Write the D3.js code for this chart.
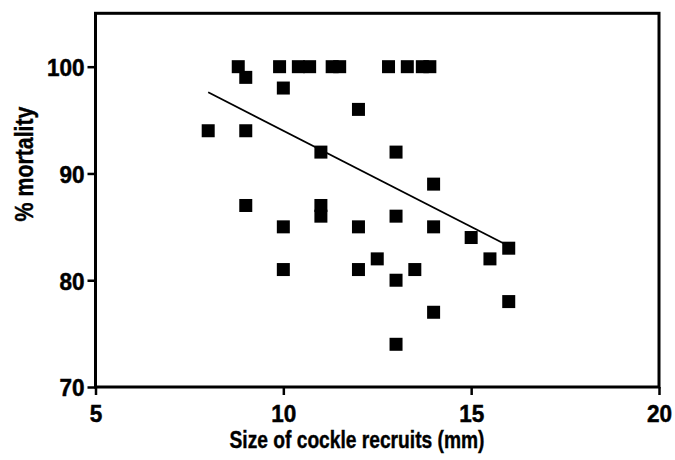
<!DOCTYPE html>
<html>
<head>
<meta charset="utf-8">
<script src="https://cdn.jsdelivr.net/npm/d3@7"></script>
<style>
  html, body { margin: 0; padding: 0; background: #fff; }
  svg { display: block; }
  text { font-family: "Liberation Sans", Arial, sans-serif; font-weight: bold; fill: #000; }
</style>
</head>
<body>
<svg id="chart" width="675" height="460"></svg>
<script>
// Recruit size (mm) and % mortality for each sample
const sizeMm = [8, 8.8, 9, 9, 9, 9.9, 10, 10, 10, 10.4, 10.7, 11, 11, 11, 11.3, 11.5,
  12, 12, 12, 12.5, 12.8, 13, 13, 13, 13, 13.3, 13.5, 13.7, 13.9, 14, 14, 14, 15, 15.5, 16, 16];
const mortality = [94, 100, 99, 94, 87, 100, 98, 85, 81, 100, 100, 92, 87, 86, 100, 100,
  96, 85, 81, 82, 100, 92, 86, 80, 74, 100, 81, 100, 100, 89, 85, 77, 84, 82, 83, 78];

// Fitted regression line end points
const fitX = [8, 16];
const fitY = [97.6, 83.2];

const xTicks = [5, 10, 15, 20];
const yTicks = [70, 80, 90, 100];

const svg = d3.select("#chart");
const plotLeft = 95.5, plotRight = 659, plotTop = 13.3, plotBottom = 387;

const x = d3.scaleLinear().domain([5, 20]).range([plotLeft, plotRight]);
const y = d3.scaleLinear().domain([70, 105]).range([plotBottom, plotTop]);

// Frame around the plot area
svg.append("rect")
  .attr("x", plotLeft).attr("y", plotTop)
  .attr("width", plotRight - plotLeft).attr("height", plotBottom - plotTop)
  .attr("fill", "none").attr("stroke", "#000").attr("stroke-width", 3);

// Axes
const xAxis = svg.append("g")
  .attr("transform", `translate(0,${plotBottom})`)
  .call(d3.axisBottom(x).tickValues(xTicks).tickSize(8).tickSizeOuter(0));
const yAxis = svg.append("g")
  .attr("transform", `translate(${plotLeft},0)`)
  .call(d3.axisLeft(y).tickValues(yTicks).tickSize(8).tickSizeOuter(0));

[xAxis, yAxis].forEach(g => {
  g.select(".domain").remove();
  g.selectAll(".tick line").attr("stroke", "#000").attr("stroke-width", 2.5);
  g.selectAll(".tick text")
    .attr("font-size", 24.5)
    .attr("font-family", "Liberation Sans, Arial, sans-serif")
    .attr("font-weight", "bold")
    .attr("fill", "#000")
    .attr("stroke", "#000")
    .attr("stroke-width", 0.5);
});
// Condensed tick lettering
xAxis.selectAll(".tick text")
  .attr("dy", null).attr("y", null)
  .attr("transform", "translate(0,35) scale(0.92,1)");
yAxis.selectAll(".tick text")
  .attr("x", null).attr("dy", "0.36em")
  .attr("transform", "translate(-11,0) scale(0.92,1)");

// Regression line
svg.append("line")
  .attr("x1", x(fitX[0])).attr("y1", y(fitY[0]))
  .attr("x2", x(fitX[1])).attr("y2", y(fitY[1]))
  .attr("stroke", "#000").attr("stroke-width", 1.8);

// Data points as filled squares
const s = 13;
svg.append("g").selectAll("rect")
  .data(sizeMm.map((v, i) => [v, mortality[i]]))
  .join("rect")
  .attr("x", d => x(d[0]) - s / 2)
  .attr("y", d => y(d[1]) - s / 2)
  .attr("width", s).attr("height", s)
  .attr("fill", "#000");

// Axis titles
svg.append("text")
  .attr("transform", "translate(357,448) scale(0.835,1)")
  .attr("text-anchor", "middle")
  .attr("font-size", 23)
  .attr("stroke", "#000").attr("stroke-width", 0.4)
  .text("Size of cockle recruits (mm)");

svg.append("text")
  .attr("transform", "translate(33,164) rotate(-90) scale(0.82,1)")
  .attr("text-anchor", "middle")
  .attr("font-size", 26)
  .attr("stroke", "#000").attr("stroke-width", 0.4)
  .text("% mortality");
</script>
</body>
</html>
